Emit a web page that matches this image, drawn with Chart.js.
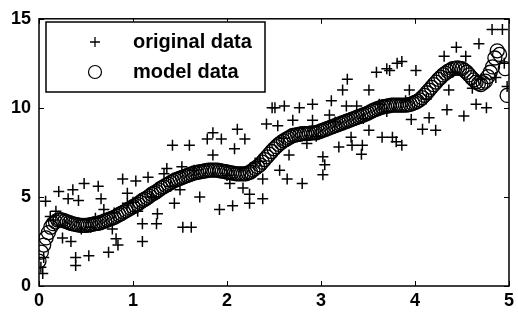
<!DOCTYPE html>
<html>
<head>
<meta charset="utf-8">
<script src="https://cdn.jsdelivr.net/npm/chart.js@4/dist/chart.umd.min.js"></script>
<style>
  html, body { margin: 0; padding: 0; background: #fff; }
  #wrap { width: 518px; height: 320px; }
</style>
</head>
<body>
<div id="wrap"><canvas id="fitChart" width="518" height="320"></canvas></div>
<script>
// original data (noisy samples)
const origX = [
  0.02, 0.04, 0.05, 0.07, 0.12, 0.15, 0.18, 0.21, 0.25, 0.31, 0.34, 0.36, 0.39, 0.39,
  0.42, 0.45, 0.48, 0.53, 0.55, 0.6, 0.63, 0.66, 0.69, 0.74, 0.78, 0.8, 0.82, 0.84,
  0.89, 0.94, 0.94, 1.0, 1.03, 1.05, 1.1, 1.1, 1.16, 1.2, 1.2, 1.25, 1.26, 1.33, 1.36,
  1.4, 1.42, 1.44, 1.5, 1.52, 1.53, 1.6, 1.62, 1.65, 1.71, 1.79, 1.85, 1.85, 1.92,
  1.94, 2.0, 2.03, 2.06, 2.08, 2.11, 2.17, 2.19, 2.24, 2.24, 2.3, 2.35, 2.38, 2.38,
  2.42, 2.48, 2.51, 2.54, 2.56, 2.6, 2.61, 2.64, 2.66, 2.7, 2.77, 2.8, 2.85, 2.91,
  2.91, 2.95, 3.02, 3.04, 3.02, 3.09, 3.11, 3.15, 3.19, 3.23, 3.27, 3.28, 3.32, 3.33,
  3.38, 3.43, 3.44, 3.45, 3.51, 3.51, 3.59, 3.62, 3.65, 3.7, 3.7, 3.73, 3.76, 3.8,
  3.81, 3.86, 3.86, 3.9, 3.94, 3.96, 4.01, 4.08, 4.12, 4.15, 4.22, 4.31, 4.34, 4.36,
  4.4, 4.44, 4.52, 4.54, 4.61, 4.65, 4.68, 4.7, 4.76, 4.82, 4.86, 4.93, 4.95, 4.98
];
const origY = [
  1.05, 0.7, 1.6, 4.76, 3.9, 3.7, 4.2, 5.3, 2.7, 4.9, 2.5, 5.4, 1.6, 1.15,
  4.8, 3.2, 5.75, 1.7, 3.3, 3.8, 5.6, 4.9, 4.3, 1.9, 3.2, 4.1, 2.65, 2.3,
  6.0, 5.2, 4.65, 4.7, 5.9, 4.2, 3.5, 2.5, 6.1, 5.0, 5.0, 3.5, 4.05, 6.3, 6.6,
  5.6, 7.9, 4.65, 5.4, 6.7, 3.3, 7.9, 3.3, 6.5, 5.0, 8.25, 8.6, 7.35, 4.3,
  8.25, 6.2, 5.75, 4.5, 7.7, 8.8, 5.5, 8.25, 5.15, 4.65, 6.9, 7.0, 6.0, 4.9,
  9.1, 10.0, 10.0, 9.0, 6.5, 8.3, 10.1, 6.0, 7.35, 9.3, 10.0, 5.75, 8.0, 10.2,
  9.3, 8.4, 7.25, 6.8, 6.25, 9.6, 10.4, 9.2, 7.8, 11.0, 10.1, 11.6, 8.35, 7.9,
  10.1, 7.4, 7.9, 9.4, 11.0, 8.75, 12.0, 10.2, 8.35, 12.2, 9.8, 12.1, 8.35, 8.1,
  12.5, 12.6, 7.9, 10.4, 11.0, 9.35, 12.1, 8.8, 10.5, 9.45, 8.75, 12.9, 9.9, 11.0,
  12.0, 13.4, 9.55, 12.9, 11.1, 10.2, 13.6, 11.6, 10.0, 14.4, 11.7, 14.4, 12.5, 11.2
];

// model data (fitted curve samples)
const modelX = [
  0.0, 0.025, 0.05, 0.075, 0.1, 0.125, 0.15, 0.175, 0.2, 0.225,
  0.25, 0.275, 0.3, 0.325, 0.35, 0.375, 0.4, 0.425, 0.45, 0.475,
  0.5, 0.525, 0.55, 0.575, 0.6, 0.625, 0.65, 0.675, 0.7, 0.725,
  0.75, 0.775, 0.8, 0.825, 0.85, 0.875, 0.9, 0.925, 0.95, 0.975,
  1.0, 1.025, 1.05, 1.075, 1.1, 1.125, 1.15, 1.175, 1.2, 1.225,
  1.25, 1.275, 1.3, 1.325, 1.35, 1.375, 1.4, 1.425, 1.45, 1.475,
  1.5, 1.525, 1.55, 1.575, 1.6, 1.625, 1.65, 1.675, 1.7, 1.725,
  1.75, 1.775, 1.8, 1.825, 1.85, 1.875, 1.9, 1.925, 1.95, 1.975,
  2.0, 2.025, 2.05, 2.075, 2.1, 2.125, 2.15, 2.175, 2.2, 2.225,
  2.25, 2.275, 2.3, 2.325, 2.35, 2.375, 2.4, 2.425, 2.45, 2.475,
  2.5, 2.525, 2.55, 2.575, 2.6, 2.625, 2.65, 2.675, 2.7, 2.725,
  2.75, 2.775, 2.8, 2.825, 2.85, 2.875, 2.9, 2.925, 2.95, 2.975,
  3.0, 3.025, 3.05, 3.075, 3.1, 3.125, 3.15, 3.175, 3.2, 3.225,
  3.25, 3.275, 3.3, 3.325, 3.35, 3.375, 3.4, 3.425, 3.45, 3.475,
  3.5, 3.525, 3.55, 3.575, 3.6, 3.625, 3.65, 3.675, 3.7, 3.725,
  3.75, 3.775, 3.8, 3.825, 3.85, 3.875, 3.9, 3.925, 3.95, 3.975,
  4.0, 4.025, 4.05, 4.075, 4.1, 4.125, 4.15, 4.175, 4.2, 4.225,
  4.25, 4.275, 4.3, 4.325, 4.35, 4.375, 4.4, 4.425, 4.45, 4.475,
  4.5, 4.525, 4.55, 4.575, 4.6, 4.625, 4.65, 4.675, 4.7, 4.725,
  4.75, 4.775, 4.8, 4.825, 4.85, 4.875, 4.9, 4.96, 4.98
];
const modelY = [
  1.4, 1.9, 2.3, 2.7, 3.0, 3.3, 3.5, 3.6, 3.7, 3.72,
  3.7, 3.65, 3.6, 3.55, 3.5, 3.47, 3.45, 3.42, 3.4, 3.4,
  3.4, 3.42, 3.45, 3.47, 3.5, 3.52, 3.55, 3.6, 3.65, 3.7,
  3.75, 3.8, 3.85, 3.92, 4.0, 4.07, 4.15, 4.22, 4.3, 4.37,
  4.45, 4.52, 4.6, 4.7, 4.8, 4.87, 4.95, 5.05, 5.15, 5.22,
  5.3, 5.4, 5.5, 5.57, 5.65, 5.72, 5.8, 5.87, 5.95, 6.0,
  6.05, 6.1, 6.15, 6.2, 6.25, 6.3, 6.35, 6.37, 6.4, 6.42,
  6.45, 6.47, 6.5, 6.5, 6.5, 6.5, 6.5, 6.47, 6.45, 6.42,
  6.4, 6.37, 6.35, 6.32, 6.3, 6.3, 6.3, 6.3, 6.3, 6.35,
  6.4, 6.5, 6.6, 6.7, 6.8, 6.95, 7.1, 7.25, 7.4, 7.55,
  7.7, 7.82, 7.95, 8.05, 8.15, 8.22, 8.3, 8.37, 8.45, 8.47,
  8.5, 8.52, 8.55, 8.55, 8.55, 8.57, 8.6, 8.6, 8.6, 8.65,
  8.7, 8.75, 8.8, 8.85, 8.9, 8.95, 9.0, 9.05, 9.1, 9.15,
  9.2, 9.25, 9.3, 9.35, 9.4, 9.45, 9.5, 9.55, 9.6, 9.65,
  9.7, 9.77, 9.85, 9.9, 9.95, 10.0, 10.05, 10.07, 10.1, 10.12,
  10.15, 10.15, 10.15, 10.15, 10.15, 10.15, 10.15, 10.17, 10.2, 10.25,
  10.3, 10.37, 10.45, 10.57, 10.7, 10.85, 11.0, 11.15, 11.3, 11.45,
  11.6, 11.72, 11.85, 11.95, 12.05, 12.12, 12.2, 12.22, 12.25, 12.22,
  12.2, 12.1, 12.0, 11.85, 11.7, 11.57, 11.45, 11.37, 11.3, 11.4,
  11.5, 11.75, 12.0, 12.3, 12.8, 13.2, 13.0, 12.2, 10.7
];

const xTicks = [0, 1, 2, 3, 4, 5];
const yTicks = [0, 5, 10, 15];
const seriesNames = ["original data", "model data"];

const toPoints = (xs, ys) => xs.map((x, i) => ({ x: x, y: ys[i] }));

// box round the plot with inward ticks, plus the legend box
const matlabFrame = {
  id: "matlabFrame",
  afterDraw(chart) {
    const ctx = chart.ctx;
    const a = chart.chartArea;
    const sx = chart.scales.x;
    const sy = chart.scales.y;
    ctx.save();
    ctx.strokeStyle = "#000";
    ctx.lineWidth = 1.5;
    ctx.strokeRect(a.left, a.top, a.right - a.left, a.bottom - a.top);
    ctx.lineWidth = 1;
    ctx.beginPath();
    xTicks.forEach(v => {
      const px = Math.round(sx.getPixelForValue(v)) + 0.5;
      ctx.moveTo(px, a.bottom); ctx.lineTo(px, a.bottom - 5);
      ctx.moveTo(px, a.top); ctx.lineTo(px, a.top + 5);
    });
    yTicks.forEach(v => {
      const py = Math.round(sy.getPixelForValue(v)) + 0.5;
      ctx.moveTo(a.left, py); ctx.lineTo(a.left + 5, py);
      ctx.moveTo(a.right, py); ctx.lineTo(a.right - 5, py);
    });
    ctx.stroke();

    // legend
    const bx = 46, by = 22, bw = 219, bh = 70;
    ctx.fillStyle = "#fff";
    ctx.fillRect(bx, by, bw, bh);
    ctx.lineWidth = 1.5;
    ctx.strokeRect(bx, by, bw, bh);
    ctx.lineWidth = 1.3;
    ctx.beginPath();
    ctx.moveTo(90, 42); ctx.lineTo(100, 42);
    ctx.moveTo(95, 37); ctx.lineTo(95, 47);
    ctx.stroke();
    ctx.lineWidth = 1.2;
    ctx.beginPath();
    ctx.arc(95, 72, 6.5, 0, Math.PI * 2);
    ctx.stroke();
    ctx.fillStyle = "#000";
    ctx.font = "bold 20px 'Liberation Sans', Arial, sans-serif";
    ctx.textBaseline = "middle";
    ctx.textAlign = "left";
    ctx.fillText(seriesNames[0], 133, 42);
    ctx.fillText(seriesNames[1], 133, 72);
    ctx.restore();
  }
};

const tickFont = { family: "'Liberation Sans', Arial, sans-serif", size: 18, weight: "bold" };

new Chart(document.getElementById("fitChart").getContext("2d"), {
  type: "scatter",
  data: {
    datasets: [
      {
        label: seriesNames[0],
        data: toPoints(origX, origY),
        pointStyle: "cross",
        pointRadius: 5.5,
        borderColor: "#000",
        borderWidth: 1.5,
      },
      {
        label: seriesNames[1],
        data: toPoints(modelX, modelY),
        pointStyle: "circle",
        pointRadius: 7,
        borderColor: "#000",
        backgroundColor: "rgba(0,0,0,0)",
        borderWidth: 1.3,
      },
    ],
  },
  options: {
    responsive: false,
    animation: false,
    layout: { padding: { top: 13, right: 8, left: 0, bottom: 0 } },
    plugins: {
      legend: { display: false },
      tooltip: { enabled: false },
    },
    scales: {
      x: {
        type: "linear",
        min: 0,
        max: 5,
        afterBuildTicks: s => { s.ticks = xTicks.map(v => ({ value: v })); },
        afterFit: s => { s.height = 34; },
        ticks: { font: tickFont, color: "#000", padding: 4 },
        grid: { display: false, drawTicks: false },
        border: { display: false },
      },
      y: {
        type: "linear",
        min: 0,
        max: 15,
        afterBuildTicks: s => { s.ticks = yTicks.map(v => ({ value: v })); },
        afterFit: s => { s.width = 39; },
        ticks: { font: tickFont, color: "#000", padding: 8 },
        grid: { display: false, drawTicks: false },
        border: { display: false },
      },
    },
  },
  plugins: [matlabFrame],
});
</script>
</body>
</html>
